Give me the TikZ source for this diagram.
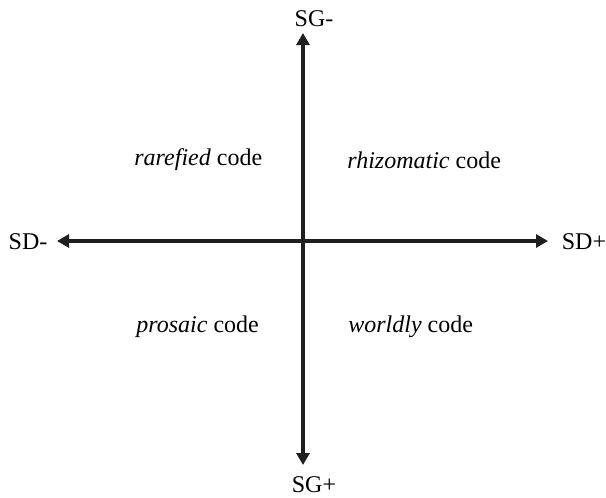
\documentclass[tikz,border=0pt]{standalone}
\usepackage{fontspec}
\setmainfont{Liberation Serif}
\usepackage{tikz}
\usetikzlibrary{arrows.meta}

\begin{document}
\begin{tikzpicture}[x=0.5pt,y=-0.5pt,>={Triangle[length=6pt,width=6.5pt]},
  axis/.style={<->,line width=1.8pt,draw=black!88},
  every node/.style={font=\fontsize{12}{14}\selectfont,inner sep=0pt}]
\useasboundingbox (0,0) rectangle (606,498);
% axis ends and labels
\node (sgminus) at (314,19) {SG-};
\node (sgplus) at (314,485) {SG+};
\node (sdminus) at (28,242) {SD-};
\node (sdplus) at (584,242) {SD+};
\coordinate (top) at (303,33);
\coordinate (bot) at (303,465);
\coordinate (lft) at (57,241);
\coordinate (rgt) at (548,241);
\draw[axis] (lft)--(rgt);
\draw[axis] (top)--(bot);
% quadrants
\node[anchor=west] (rare) at (134,160) {\textit{rarefied} code};
\node[anchor=west] (rhizo) at (347,160) {\textit{rhizomatic} code};
\node[anchor=west] (prosa) at (136,327) {\textit{prosaic} code};
\node[anchor=west] (world) at (348,327) {\textit{worldly} code};
\end{tikzpicture}
\end{document}
